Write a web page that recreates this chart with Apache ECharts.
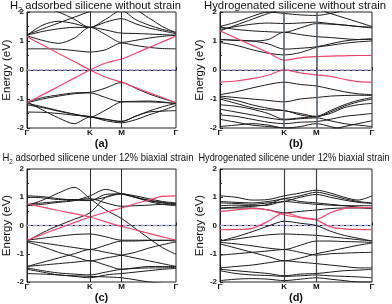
<!DOCTYPE html>
<html><head><meta charset="utf-8">
<script src="https://cdn.jsdelivr.net/npm/echarts@6/dist/echarts.min.js"></script>
<style>html,body{margin:0;padding:0;background:#fff}#c{width:392px;height:304px}</style>
</head><body><div id="c"></div>
<script>
// k-path sample points: Γ ... K ... M ... Γ
var kPts = [0, 0.25, 0.5, 0.75, 1.0, 1.25, 1.5, 1.7165, 1.933, 2.1495, 2.366];
var kTickVals = [0, 1.0, 1.5, 2.366];
var kTickNames = ['Γ', 'K', 'M', 'Γ'];
var eTicks = [-2, -1, 0, 1, 2];
var fermiLevel = 0;

var titlesA = ['H', '2', ' adsorbed silicene without strain'];
var titleB = 'Hydrogenated silicene without strain';
var titlesC = ['H', '2', ' adsorbed silicene under 12% biaxial strain'];
var titleD = 'Hydrogenated silicene under 12% biaxial strain';
var panelLabels = ['(a)', '(b)', '(c)', '(d)'];

// Panel (a)
var redA = [
  [-1.13,-0.85,-0.57,-0.28,0,0.24,0.38,0.57,0.77,0.97,1.17],
  [1.15,0.86,0.57,0.29,0,-0.25,-0.42,-0.6,-0.78,-0.95,-1.13]
];
var blackA = [
  [0.73,0.73,0.72,0.67,0.62,0.70,0.93,0.85,0.78,0.74,0.73],
  [1.18,1.02,0.92,1.10,1.47,1.22,0.95,1.02,1.10,1.16,1.20],
  [1.20,1.33,1.42,1.47,1.47,1.38,1.27,1.26,1.24,1.22,1.20],
  [1.20,1.55,1.68,1.60,1.47,1.75,2.05,1.75,1.55,1.40,1.30],
  [1.22,1.42,1.62,1.82,2.02,2.20,2.30,2.10,1.80,1.50,1.28],
  [2.30,2.15,2.00,1.75,1.47,1.65,1.77,1.60,1.45,1.35,1.25],
  [-1.10,-0.95,-0.86,-0.79,-0.77,-0.62,-0.43,-0.62,-0.82,-0.98,-1.12],
  [-1.13,-1.00,-0.90,-0.82,-0.79,-0.95,-1.10,-1.10,-1.10,-1.12,-1.15],
  [-1.15,-1.27,-1.40,-1.52,-1.62,-1.70,-1.77,-1.60,-1.42,-1.27,-1.15],
  [-1.20,-1.30,-1.42,-1.53,-1.62,-1.38,-1.10,-1.08,-1.07,-1.10,-1.17],
  [-1.45,-1.46,-1.50,-1.56,-1.60,-1.70,-1.78,-1.60,-1.45,-1.42,-1.40],
  [-1.10,-1.38,-1.65,-1.85,-1.62,-1.75,-1.82,-1.72,-1.55,-1.40,-1.22]
];
// Panel (b)
var redB = [
  [1.35,1.10,0.85,0.60,0.34,0.42,0.46,0.48,0.49,0.50,0.50],
  [-0.42,-0.38,-0.30,-0.18,0,-0.10,-0.17,-0.22,-0.32,-0.40,-0.42]
];
var blackB = [
  [1.35,1.55,1.75,1.95,2.10,2.15,2.10,1.95,1.80,1.65,1.50],
  [1.40,1.50,1.58,1.62,1.60,1.62,1.65,1.60,1.55,1.50,1.45],
  [1.48,1.40,1.35,1.32,1.30,1.45,1.60,1.58,1.55,1.50,1.48],
  [1.50,1.65,1.85,2.00,1.95,1.90,1.88,1.95,2.05,2.10,2.15],
  [1.05,1.02,1.00,1.05,1.30,1.22,1.15,1.12,1.08,1.05,1.05],
  [0.95,0.85,0.70,0.58,0.52,0.60,0.78,0.85,0.92,0.97,1.00],
  [1.05,1.03,1.00,0.90,0.72,0.75,0.80,0.90,1.00,1.05,1.08],
  [-0.85,-0.75,-0.62,-0.50,-0.42,-0.50,-0.55,-0.65,-0.75,-0.82,-0.85],
  [-0.90,-0.95,-1.00,-1.05,-1.10,-1.00,-0.95,-0.90,-0.88,-0.87,-0.88],
  [-0.95,-1.05,-1.20,-1.32,-1.40,-1.50,-1.60,-1.40,-1.20,-1.05,-0.95],
  [-1.00,-1.15,-1.30,-1.38,-1.40,-1.55,-1.62,-1.45,-1.25,-1.10,-1.00],
  [-1.20,-1.25,-1.35,-1.50,-1.70,-1.65,-1.60,-1.50,-1.30,-1.20,-1.15],
  [-1.35,-1.45,-1.55,-1.65,-1.72,-1.68,-1.65,-1.75,-1.85,-1.90,-1.95],
  [-1.55,-1.60,-1.70,-1.80,-1.85,-1.80,-1.78,-1.70,-1.60,-1.55,-1.50],
  [-1.95,-1.90,-1.85,-1.90,-2.00,-1.95,-1.85,-1.95,-2.05,-2.10,-2.10],
  [-1.70,-1.80,-1.90,-1.95,-2.00,-2.05,-2.10,-2.05,-1.95,-1.85,-1.75]
];
// Panel (c)
var redC = [
  [-0.52,-0.31,-0.10,0.10,0.30,0.47,0.62,0.77,0.90,1.03,1.05],
  [0.77,0.65,0.53,0.42,0.30,0.13,-0.03,-0.15,-0.28,-0.40,-0.52]
];
var blackC = [
  [0.70,0.90,1.15,1.35,0.95,0.55,0.25,-0.10,-0.45,-0.78,-1.02],
  [-0.55,-0.25,0.00,0.22,0.45,1.00,1.12,1.00,0.88,0.80,0.75],
  [1.05,1.02,0.95,0.90,0.88,1.10,1.12,1.00,0.85,0.75,0.70],
  [1.00,0.98,0.92,0.92,0.90,1.00,1.12,1.05,0.95,0.85,0.80],
  [0.70,0.75,0.82,0.88,1.05,1.28,1.12,1.00,0.90,0.82,0.77],
  [0.75,0.80,0.85,0.90,0.95,0.80,0.68,0.70,0.72,0.75,0.75],
  [-0.52,-0.45,-0.38,-0.32,-0.30,-0.40,-0.52,-0.52,-0.52,-0.52,-0.52],
  [-0.55,-0.62,-0.70,-0.78,-0.85,-0.70,-0.55,-0.55,-0.53,-0.53,-0.55],
  [-0.58,-0.75,-0.95,-1.10,-1.25,-1.15,-1.05,-0.95,-0.80,-0.68,-0.58],
  [-1.45,-1.30,-1.15,-1.00,-0.85,-0.95,-1.05,-1.15,-1.25,-1.35,-1.45],
  [-1.45,-1.40,-1.35,-1.30,-1.25,-1.40,-1.55,-1.50,-1.45,-1.45,-1.45],
  [-1.50,-1.60,-1.68,-1.72,-1.75,-1.65,-1.55,-1.52,-1.50,-1.50,-1.48],
  [-1.55,-1.65,-1.75,-1.78,-1.80,-1.82,-1.85,-1.92,-2.00,-2.05,-2.10],
  [-1.70,-1.72,-1.75,-1.80,-1.85,-1.75,-1.70,-1.65,-1.60,-1.55,-1.52]
];
// Panel (d)
var redD = [
  [0.50,0.55,0.60,0.55,0.38,0.28,0.22,0.45,0.60,0.63,0.63],
  [-0.15,-0.14,-0.10,0.15,0.45,0.30,0.20,-0.05,-0.12,-0.14,-0.15]
];
var blackD = [
  [1.05,1.00,0.90,0.92,1.05,1.15,1.25,1.15,1.00,0.90,1.05],
  [0.85,0.82,0.80,0.85,0.95,1.05,1.18,1.08,0.95,0.85,0.80],
  [0.80,0.78,0.75,0.80,0.85,1.00,1.10,1.00,0.90,0.82,0.78],
  [0.70,0.72,0.70,0.72,0.85,0.80,0.75,0.72,0.70,0.70,0.70],
  [0.62,0.65,0.68,0.75,0.95,0.85,0.80,0.75,0.70,0.65,0.62],
  [0.60,0.62,0.62,0.55,0.45,0.50,0.55,0.60,0.62,0.62,0.60],
  [-0.55,-0.40,-0.22,-0.02,0.15,0.08,0.00,-0.20,-0.35,-0.45,-0.55],
  [-0.55,-0.48,-0.40,-0.33,-0.30,-0.32,-0.35,-0.40,-0.45,-0.50,-0.55],
  [-0.60,-0.65,-0.72,-0.80,-0.85,-0.70,-0.55,-0.55,-0.57,-0.58,-0.60],
  [-0.65,-0.80,-0.95,-1.10,-1.25,-1.15,-1.00,-0.90,-0.80,-0.70,-0.62],
  [-1.05,-1.00,-0.95,-0.90,-0.85,-0.95,-1.05,-1.00,-0.98,-0.96,-0.95],
  [-1.50,-1.45,-1.40,-1.32,-1.25,-1.30,-1.35,-1.40,-1.45,-1.50,-1.50],
  [-1.55,-1.60,-1.65,-1.70,-1.78,-1.72,-1.70,-1.65,-1.60,-1.58,-1.55],
  [-1.60,-1.70,-1.75,-1.77,-1.80,-1.78,-1.75,-1.78,-1.80,-1.82,-1.85],
  [-1.95,-1.90,-1.88,-1.90,-1.95,-1.90,-1.85,-1.90,-1.95,-2.00,-2.00]
];

var FONT = '"Liberation Sans", Arial, sans-serif';
var grids = [
  {left: 21, top: 12, width: 155, height: 116},
  {left: 220, top: 12, width: 152, height: 116},
  {left: 22, top: 169, width: 154, height: 116},
  {left: 220, top: 169, width: 152, height: 116}
];
var panels = [
  {red: redA, black: blackA, vline: '#2a2a2a', vw: 1},
  {red: redB, black: blackB, vline: '#55606a', vw: 1.6},
  {red: redC, black: blackC, vline: '#2a2a2a', vw: 1},
  {red: redD, black: blackD, vline: '#3a3f45', vw: 1.2}
];

function toPts(band) { return band.map(function (e, i) { return [kPts[i], e]; }); }

var mctx = document.createElement('canvas').getContext('2d');
function textW(str, size) { mctx.font = size + 'px ' + FONT; return mctx.measureText(str).width; }

var option = {
  backgroundColor: '#fff',
  animation: false,
  graphic: [],
  grid: [], xAxis: [], yAxis: [], series: []
};

// title placement: centre x, centre y, target rendered width (font kept, squeezed horizontally)
var TFS = 10.5, SFS = 7;
var titleDefs = [
  {x: 95.5, y: 6, w: 171, rich: titlesA},
  {x: 295, y: 6, w: 182, plain: titleB},
  {x: 98, y: 158, w: 191, rich: titlesC},
  {x: 294, y: 158, w: 191, plain: titleD}
];
titleDefs.forEach(function (t) {
  var parts = t.rich ? [[t.rich[0], TFS, 0], [t.rich[1], SFS, 4], [t.rich[2], TFS, 0]] : [[t.plain, TFS, 0]];
  var widths = parts.map(function (p) { return textW(p[0], p[1]); });
  var total = widths.reduce(function (a, b) { return a + b; }, 0);
  var sx = t.w / total;
  var x = t.x - t.w / 2;
  parts.forEach(function (p, i) {
    option.graphic.push({type: 'text', x: x, y: t.y + p[2], scaleX: sx, silent: true,
      style: {text: p[0], font: p[1] + 'px ' + FONT, fill: '#111', align: 'left', verticalAlign: 'middle'}});
    x += widths[i] * sx;
  });
});

grids.forEach(function (g, gi) {
  var p = panels[gi];
  option.grid.push({left: g.left, top: g.top, width: g.width, height: g.height,
    show: true, borderColor: '#222', borderWidth: 1, backgroundColor: 'transparent'});
  option.xAxis.push({
    type: 'value', gridIndex: gi, min: 0, max: 2.366,
    name: panelLabels[gi], nameLocation: 'middle', nameGap: 10,
    nameTextStyle: {fontSize: 11, fontWeight: 'bold', fontFamily: FONT, color: '#111'},
    axisLine: {show: true, lineStyle: {color: '#222'}},
    splitLine: {show: false},
    axisTick: {show: true, inside: true, length: 3, customValues: kTickVals, lineStyle: {color: '#222'}},
    axisLabel: {show: true, customValues: kTickVals, margin: 1, fontSize: 8, fontWeight: 'bold',
      fontFamily: FONT, color: '#111',
      formatter: function (v) {
        for (var i = 0; i < kTickVals.length; i++) if (Math.abs(v - kTickVals[i]) < 1e-6) return kTickNames[i];
        return '';
      }}
  });
  option.yAxis.push({
    type: 'value', gridIndex: gi, min: -2, max: 2, interval: 1,
    name: 'Energy (eV)', nameLocation: 'middle', nameGap: 11, nameRotate: 90,
    nameTextStyle: {fontSize: 11.5, fontFamily: FONT, color: '#111'},
    axisLine: {show: true, lineStyle: {color: '#222'}},
    splitLine: {show: false},
    axisTick: {show: true, inside: true, length: 3, lineStyle: {color: '#222'}},
    minorTick: {show: true, splitNumber: 2, length: 2, lineStyle: {color: '#222'}},
    axisLabel: {margin: 3, fontSize: 8, fontWeight: 'bold', fontFamily: FONT, color: '#111',
      customValues: eTicks}
  });
  // Fermi level reference (dashed) across the whole k-path
  option.series.push({type: 'line', xAxisIndex: gi, yAxisIndex: gi,
    data: [[kTickVals[0], fermiLevel], [kTickVals[3], fermiLevel]],
    showSymbol: false, symbol: 'none', silent: true, z: 1,
    itemStyle: {color: '#a4a4ec'},
    lineStyle: {color: '#a4a4ec', width: 1.4, type: [4, 2]}});
  p.black.forEach(function (b, bi) {
    var s = {type: 'line', xAxisIndex: gi, yAxisIndex: gi, data: toPts(b), showSymbol: false,
      symbol: 'none', smooth: 0.3, clip: true, silent: true, z: 2,
      itemStyle: {color: '#1a1a1a'},
      lineStyle: {color: '#1a1a1a', width: 1}};
    if (bi === 0) {
      s.markLine = {silent: true, symbol: 'none', label: {show: false},
        lineStyle: {color: p.vline, width: p.vw, type: 'solid'},
        data: [{xAxis: kTickVals[1]}, {xAxis: kTickVals[2]}]};
    }
    option.series.push(s);
  });
  p.red.forEach(function (b) {
    option.series.push({type: 'line', xAxisIndex: gi, yAxisIndex: gi, data: toPts(b), showSymbol: false,
      symbol: 'none', smooth: 0.3, clip: true, silent: true, z: 3,
      itemStyle: {color: '#f0446e'},
      lineStyle: {color: '#f0446e', width: 1.2}});
  });
});

var chart = echarts.init(document.getElementById('c'), null, {renderer: 'canvas'});
chart.setOption(option);
</script></body></html>
